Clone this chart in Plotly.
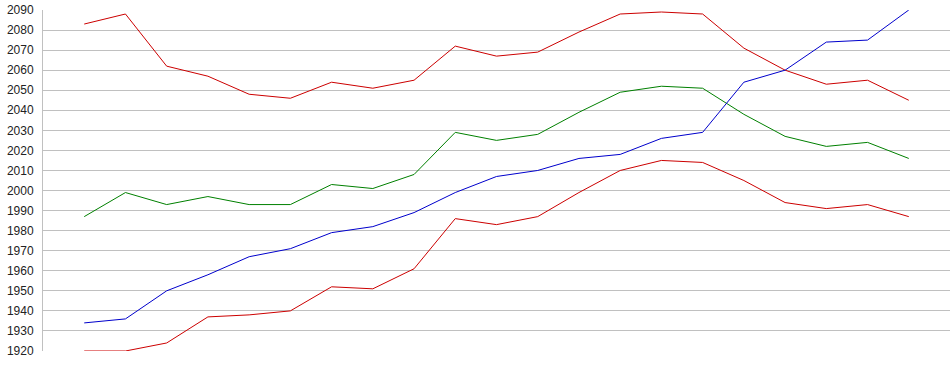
import plotly.graph_objects as go

x_idx = list(range(21))

red_upper = [2083, 2088, 2062, 2057, 2048, 2046, 2054, 2051, 2055, 2072, 2067,
             2069, 2079, 2088, 2089, 2088, 2071, 2060, 2053, 2055, 2045]
green = [1987, 1999, 1993, 1997, 1993, 1993, 2003, 2001, 2008, 2029, 2025,
         2028, 2039, 2049, 2052, 2051, 2038, 2027, 2022, 2024, 2016]
blue = [1934, 1936, 1950, 1958, 1967, 1971, 1979, 1982, 1989, 1999, 2007,
        2010, 2016, 2018, 2026, 2029, 2054, 2060, 2074, 2075, 2090]
red_lower = [1920, 1920, 1924, 1937, 1938, 1940, 1952, 1951, 1961, 1986, 1983,
             1987, 1999, 2010, 2015, 2014, 2005, 1994, 1991, 1993, 1987]

y_ticks = list(range(1920, 2091, 10))

series = [
    (red_upper, "#cc0000"),
    (green, "#008000"),
    (blue, "#0000cc"),
    (red_lower, "#cc0000"),
]

fig = go.Figure()
for vals, col in series:
    fig.add_trace(go.Scatter(x=x_idx, y=vals, mode="lines",
                             line=dict(color=col, width=1), showlegend=False,
                             hoverinfo="skip"))

fig.update_layout(
    width=950, height=375,
    margin=dict(l=43, r=0, t=10, b=24),
    paper_bgcolor="white", plot_bgcolor="white",
    font=dict(family="Liberation Sans, Arial, sans-serif", size=12, color="#222222"),
    xaxis=dict(range=[-1, 21], showgrid=False, showticklabels=False,
               zeroline=False, showline=False, ticks=""),
    yaxis=dict(range=[1920, 2090], tickvals=y_ticks, ticktext=[str(v) for v in y_ticks],
               showgrid=True, gridcolor="#c0c0c0", gridwidth=1,
               zeroline=False, showline=True, linecolor="#c0c0c0", linewidth=1,
               ticks="", ticklabelstandoff=6, ticklabeloverflow="allow"),
)

fig.write_html("out.html",
               config={"displayModeBar": False, "staticPlot": True},
               post_script="document.body.style.margin='0';document.body.style.padding='0';")
